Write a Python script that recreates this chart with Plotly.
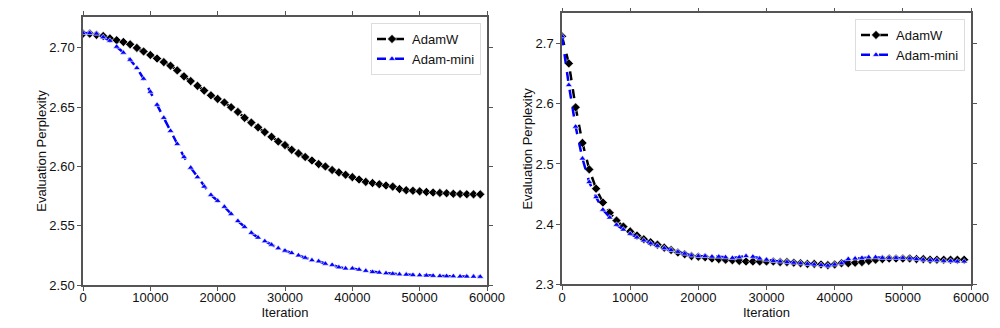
import plotly.graph_objects as go

iterations = [i * 1000 for i in range(60)]

left_adamw = [2.712, 2.712, 2.711, 2.710, 2.708, 2.7065, 2.705, 2.703, 2.700, 2.697,
              2.694, 2.691, 2.688, 2.685, 2.681, 2.676, 2.672, 2.668, 2.664, 2.660,
              2.657, 2.654, 2.650, 2.646, 2.641, 2.637, 2.633, 2.629, 2.625, 2.621,
              2.618, 2.614, 2.611, 2.608, 2.605, 2.602, 2.600, 2.597, 2.595, 2.593,
              2.591, 2.589, 2.587, 2.586, 2.585, 2.584, 2.583, 2.581, 2.580, 2.5795,
              2.579, 2.5785, 2.578, 2.5777, 2.5774, 2.577, 2.5768, 2.5766, 2.5765, 2.5765]
left_adammini = [2.7125, 2.7125, 2.712, 2.709, 2.706, 2.701, 2.696, 2.690, 2.683, 2.674,
                 2.663, 2.652, 2.641, 2.630, 2.619, 2.608, 2.599, 2.591, 2.583, 2.576,
                 2.571, 2.566, 2.560, 2.554, 2.549, 2.544, 2.540, 2.537, 2.534, 2.531,
                 2.529, 2.527, 2.525, 2.523, 2.521, 2.520, 2.518, 2.517, 2.515, 2.514,
                 2.514, 2.513, 2.512, 2.511, 2.5105, 2.510, 2.5095, 2.509, 2.5088, 2.5085,
                 2.5083, 2.508, 2.5078, 2.5076, 2.5075, 2.5074, 2.5073, 2.5072, 2.5071, 2.507]
right_adamw = [2.712, 2.667, 2.594, 2.535, 2.491, 2.459, 2.436, 2.419, 2.406, 2.396,
               2.388, 2.381, 2.375, 2.370, 2.366, 2.361, 2.357, 2.353, 2.350, 2.347,
               2.346, 2.345, 2.343, 2.342, 2.341, 2.340, 2.339, 2.338, 2.338, 2.338,
               2.338, 2.338, 2.337, 2.337, 2.336, 2.335, 2.334, 2.334, 2.333, 2.332,
               2.333, 2.335, 2.335, 2.336, 2.337, 2.339, 2.341, 2.342, 2.343, 2.343,
               2.343, 2.343, 2.342, 2.342, 2.341, 2.341, 2.341, 2.341, 2.341, 2.341]
right_adammini = [2.712, 2.631, 2.562, 2.509, 2.470, 2.445, 2.424, 2.411, 2.399, 2.391,
                  2.384, 2.378, 2.373, 2.368, 2.364, 2.360, 2.357, 2.354, 2.351, 2.348,
                  2.347, 2.347, 2.346, 2.346, 2.345, 2.344, 2.345, 2.347, 2.346, 2.343,
                  2.341, 2.339, 2.338, 2.337, 2.336, 2.335, 2.334, 2.333, 2.332, 2.331,
                  2.333, 2.335, 2.342, 2.343, 2.344, 2.345, 2.345, 2.344, 2.344, 2.344,
                  2.344, 2.343, 2.342, 2.341, 2.340, 2.340, 2.339, 2.339, 2.338, 2.338]

x_ticks = [0, 10000, 20000, 30000, 40000, 50000, 60000]
left_y_ticks = [2.50, 2.55, 2.60, 2.65, 2.70]
right_y_ticks = [2.3, 2.4, 2.5, 2.6, 2.7]

FONT = "Liberation Sans, Arial, sans-serif"
AX = "#555555"
TXT = "#111111"

fig = go.Figure()

def add_pair(xa, ya, s_w, s_m, legend):
    fig.add_trace(go.Scatter(
        x=iterations, y=s_w, name="AdamW", mode="lines+markers",
        xaxis=xa, yaxis=ya, legend=legend,
        line=dict(color="black", width=2.5, dash="dash"),
        marker=dict(symbol="diamond", size=7, color="black",
                    line=dict(color="white", width=0.6))))
    fig.add_trace(go.Scatter(
        x=iterations, y=s_m, name="Adam-mini", mode="lines+markers",
        xaxis=xa, yaxis=ya, legend=legend,
        line=dict(color="#0000ff", width=2.5, dash="dash"),
        marker=dict(symbol="triangle-up", size=6, color="#0000ff",
                    line=dict(color="white", width=0.6))))

add_pair("x", "y", left_adamw, left_adammini, "legend")
add_pair("x2", "y2", right_adamw, right_adammini, "legend2")

axis_common = dict(showline=True, linecolor=AX, linewidth=1.5, mirror="ticks",
                   ticks="outside", ticklen=4, tickcolor=AX, showgrid=False,
                   zeroline=False, automargin=False,
                   tickfont=dict(family=FONT, size=13, color=TXT),
                   title_font=dict(family=FONT, size=13, color=TXT))

legend_common = dict(xanchor="right", yanchor="top", bgcolor="white",
                     bordercolor="#dddddd", borderwidth=1, tracegroupgap=0,
                     itemwidth=30, font=dict(family=FONT, size=13, color=TXT))

fig.update_layout(
    width=1000, height=328,
    margin=dict(l=0, r=0, t=0, b=0, autoexpand=False),
    paper_bgcolor="white", plot_bgcolor="white",
    font=dict(family=FONT, size=13, color=TXT),
    showlegend=True,
    xaxis=dict(domain=[0.083, 0.487], range=[0, 60000], tickvals=x_ticks, tickformat="d",
               ticklabelstandoff=-4,
               title=dict(text="Iteration", standoff=0), anchor="y", **axis_common),
    yaxis=dict(domain=[0.131, 0.948], range=[2.50, 2.726], tickvals=left_y_ticks,
               tickformat=".2f", title=dict(text="Evaluation Perplexity", standoff=0),
               anchor="x", **axis_common),
    xaxis2=dict(domain=[0.562, 0.971], range=[0, 60000], tickvals=x_ticks, tickformat="d",
                ticklabelstandoff=-4,
                title=dict(text="Iteration", standoff=0), anchor="y2", **axis_common),
    yaxis2=dict(domain=[0.133, 0.959], range=[2.3, 2.75], tickvals=right_y_ticks,
                tickformat=".1f", title=dict(text="Evaluation Perplexity", standoff=0),
                anchor="x2", **axis_common),
    legend=dict(x=0.481, y=1 - 23 / 328, **legend_common),
    legend2=dict(x=0.965, y=1 - 19 / 328, **legend_common),
)

fig.write_html("out.html")
